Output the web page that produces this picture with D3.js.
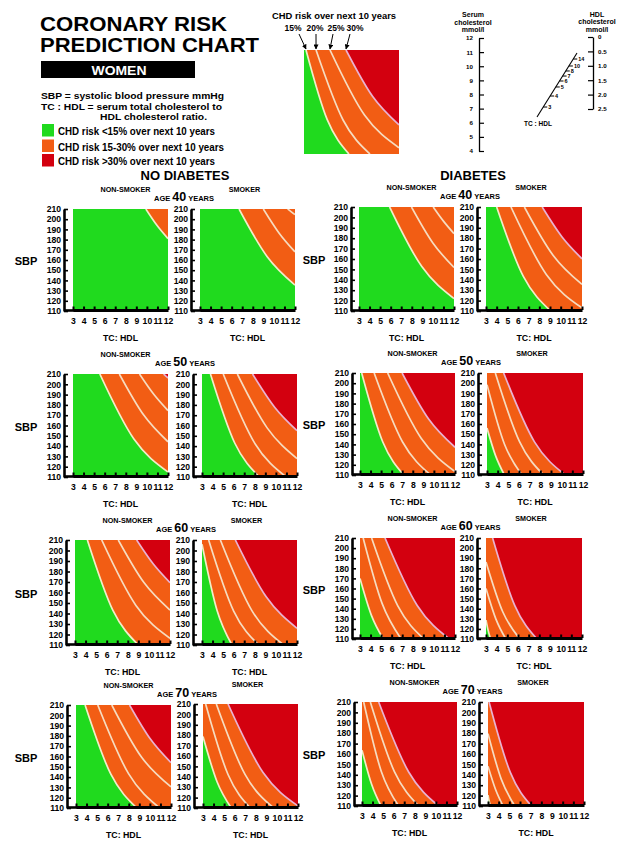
<!DOCTYPE html>
<html><head><meta charset="utf-8">
<script src="https://cdn.jsdelivr.net/npm/d3@7"></script>
<style>
body{margin:0;background:#fff}
svg{display:block}
text{font-family:"Liberation Sans",Arial,Helvetica,sans-serif;font-weight:bold;fill:#000}
</style>
</head><body>
<svg id="chart" width="622" height="852"></svg>
<script>
// ---------------- DATA ----------------
const titleLines = ["CORONARY RISK", "PREDICTION CHART"];
const sexLabel = "WOMEN";
const definitions = ["SBP = systolic blood pressure mmHg", "TC : HDL = serum total cholesterol to", "HDL cholesterol ratio."];
const legendItems = ["CHD risk <15% over next 10 years", "CHD risk 15-30% over next 10 years", "CHD risk >30% over next 10 years"];
const ages = [40, 50, 60, 70];
const diabetesGroups = ["NO DIABETES", "DIABETES"];
const smokingGroups = ["NON-SMOKER", "SMOKER"];
const riskLevels = ["15%", "20%", "25%", "30%"];
const sbpTicks = [110, 120, 130, 140, 150, 160, 170, 180, 190, 200, 210];
const ratioTicks = [3, 4, 5, 6, 7, 8, 9, 10, 11, 12];
const serumTicks = [4, 5, 6, 7, 8, 9, 10, 11, 12];
const hdlTicks = [0, 0.5, 1.0, 1.5, 2.0, 2.5];
const nomogramRatioTicks = [3, 4, 5, 6, 7, 8, 10, 14];

// Risk contour lines per panel: [15%, 20%, 25%, 30%], each as [TC:HDL, SBP] points (null = not present)
const legendContours = [[[3.19,210],[5.2,143],[7.26,110]], [[4.14,210],[6.7,142.7],[9.25,110]], [[5.46,210],[8.73,147.4],[12,116]], [[6.98,210],[9.49,165.5],[12,138]]];

const noDiabNonSmoker40 = [[[9.9,210],[10.95,194],[12,181]], null, null, null];
const noDiabSmoker40 = [[[6.7,210],[9.35,163.5],[12,135.4]], [[9.0,210],[10.5,186.3],[12,168]], [[11.3,210],[11.65,207.2],[12,204.5]], null];
const diabNonSmoker40 = [[[5.9,210],[8.95,152.7],[12,122]], [[7.97,210],[9.98,175.7],[12,151.8]], [[10.03,210],[11.0,196.4],[12,184.4]], null];
const diabSmoker40 = [[[4.0,210],[6.5,143.2],[9.06,110]], [[5.34,210],[8.67,144.9],[12,113]], [[6.6,210],[9.3,163.4],[12,135.6]], [[8.27,210],[10.13,181.2],[12,160.2]]];

const noDiabNonSmoker50 = [[[5.54,210],[8.77,146.8],[12,114.9]], [[7.39,210],[9.7,170.1],[12,144.2]], [[9.3,210],[10.65,190.3],[12,174.5]], [[11.59,210],[11.8,208],[12,206.1]]];
const noDiabSmoker50 = [[[3.8,210],[6.1,143],[8.43,110]], [[5.01,210],[7.99,142.9],[10.98,110]], [[6.35,210],[9.17,157.7],[12,127.9]], [[7.79,210],[9.9,177.5],[12,155]]];
const diabNonSmoker50 = [[[3.16,210],[5.15,142.6],[7.15,110]], [[4.34,210],[7.02,142.6],[9.7,110]], [[5.62,210],[8.81,145.7],[12,113.3]], [[6.99,210],[9.5,164.9],[12,137.2]]];
const diabSmoker50 = [[[3,156],[3.8,129],[4.63,110]], [[3,198.5],[4.64,140.1],[6.28,110]], [[3.78,210],[6.05,142.7],[8.31,110]], [[4.56,210],[7.45,142.5],[10.34,110]]];

const noDiabNonSmoker60 = [[[4.17,210],[6.58,143.2],[9.0,110]], [[5.53,210],[8.77,147.7],[12,116.3]], [[7.1,210],[9.55,169.2],[12,143.3]], [[8.84,210],[10.42,187.1],[12,169.4]]];
const noDiabSmoker60 = [[[3,206],[4.42,143.1],[5.84,110]], [[3.63,210],[6.0,142.3],[8.37,110]], [[4.74,210],[7.74,142.5],[10.74,110]], [[6.16,210],[9.08,155.9],[12,125.9]]];
const diabNonSmoker60 = [[[3,170],[4.1,132.9],[5.21,110]], [[3.3,210],[5.1,145],[6.9,110]], [[4.1,210],[6.58,142.8],[9.06,110]], [[5.37,210],[8.42,143.1],[11.46,110]]];
const diabSmoker60 = [[[3,128.7],[3.2,118.5],[3.43,110]], [[3,160],[3.93,129.7],[4.86,110]], [[3,186.3],[4.58,136.7],[6.17,110]], [[3.62,210],[5.7,143.1],[7.78,110]]];

const noDiabNonSmoker70 = [[[3.86,210],[6.3,142.8],[8.77,110]], [[5.06,210],[7.99,143.1],[10.92,110]], [[6.39,210],[9.2,159.5],[12,130.5]], [[8.07,210],[10.03,177.2],[12,154]]];
const noDiabSmoker70 = [[[3,178.7],[4.34,135],[5.68,110]], [[3.25,210],[5.37,142.2],[7.48,110]], [[4.26,210],[6.98,142.3],[9.69,110]], [[5.37,210],[8.69,144.1],[12,112]]];
const diabNonSmoker70 = [[[3,163.7],[3.9,131.1],[4.8,110]], [[3.16,210],[4.82,143.5],[6.47,110]], [[3.79,210],[6.08,142.8],[8.37,110]], [[4.58,210],[7.42,142.7],[10.26,110]]];
const diabSmoker70 = [[[3,120.5],[3.1,115],[3.22,110]], [[3,148.3],[3.7,126.1],[4.41,110]], [[3,179.6],[4.25,135.6],[5.51,110]], [[3.1,210],[5.09,142.3],[7.08,110]]];

// ---------------- LAYOUT / STYLE ----------------
const COLORS = {green: "#20da1e", orange: "#f25d14", red: "#d3000f"};
const LINE15 = "#f2ecc8", LINE_MID = "#f6dcc0", LINE30 = "#e9b2d2";
const panelLeft = [[73,200,359,486],[73,202,360,487],[75,202,360,486],[76,203,362,488]];
const panelTop  = [[209,209,207,207],[374,374,373,373],[540,540,538,538],[705,704,702,702]];
const panelH    = [[102,102,104,104],[103,103,102,102],[105,105,101,101],[103,104,104,104]];
const panelW    = [95, 95, 95, 96];
const axisGap   = [9, 9, 8, 9];

const panelContours = [
  [noDiabNonSmoker40, noDiabSmoker40, diabNonSmoker40, diabSmoker40],
  [noDiabNonSmoker50, noDiabSmoker50, diabNonSmoker50, diabSmoker50],
  [noDiabNonSmoker60, noDiabSmoker60, diabNonSmoker60, diabSmoker60],
  [noDiabNonSmoker70, noDiabSmoker70, diabNonSmoker70, diabSmoker70]
];

const svg = d3.select("#chart");
const xDom = [ratioTicks[0], ratioTicks[ratioTicks.length - 1]];
const yDom = [sbpTicks[0], sbpTicks[sbpTicks.length - 1]];

function drawRiskBox(left, top, w, h, contours, clipId) {
  const x = d3.scaleLinear().domain(xDom).range([left, left + w]);
  const y = d3.scaleLinear().domain(yDom).range([top + h, top]);
  svg.append("clipPath").attr("id", clipId).append("rect")
    .attr("x", left).attr("y", top).attr("width", w).attr("height", h);
  const g = svg.append("g").attr("clip-path", `url(#${clipId})`);
  const line = d3.line().x(d => x(d[0])).y(d => y(d[1])).curve(d3.curveNatural);
  const region = pts => {
    const first = pts[0], last = pts[pts.length - 1];
    return line(pts) + `L${x(last[0])},${y(yDom[0]) + 2}L${x(xDom[0]) - 2},${y(yDom[0]) + 2}L${x(xDom[0]) - 2},${y(first[1])}Z`;
  };
  g.append("rect").attr("x", left).attr("y", top).attr("width", w).attr("height", h).attr("fill", COLORS.red);
  if (contours[3]) g.append("path").attr("d", region(contours[3])).attr("fill", COLORS.orange);
  else g.append("rect").attr("x", left).attr("y", top).attr("width", w).attr("height", h).attr("fill", COLORS.orange);
  if (contours[0]) g.append("path").attr("d", region(contours[0])).attr("fill", COLORS.green);
  contours.forEach((pts, i) => {
    if (!pts) return;
    g.append("path").attr("d", line(pts)).attr("fill", "none")
      .attr("stroke", i === 0 ? LINE15 : (i === 3 ? LINE30 : LINE_MID))
      .attr("stroke-width", 1.7);
  });
  return {x, y};
}

// ---------------- HEADER ----------------
svg.append("text").attr("x", 40).attr("y", 31).attr("font-size", 21)
  .attr("textLength", 187).attr("lengthAdjust", "spacingAndGlyphs").text(titleLines[0]);
svg.append("text").attr("x", 40).attr("y", 52).attr("font-size", 21)
  .attr("textLength", 219).attr("lengthAdjust", "spacingAndGlyphs").text(titleLines[1]);
svg.append("rect").attr("x", 41).attr("y", 61).attr("width", 154).attr("height", 17).attr("fill", "#000");
svg.append("text").attr("x", 119).attr("y", 74.5).attr("font-size", 13).attr("text-anchor", "middle")
  .attr("textLength", 55).attr("lengthAdjust", "spacingAndGlyphs").style("fill", "#fff").text(sexLabel);

const defPos = [[41, 99, 183], [41, 110, 181], [100, 120, 107]];
definitions.forEach((t, i) => {
  svg.append("text").attr("x", defPos[i][0]).attr("y", defPos[i][1]).attr("font-size", 9.8)
    .attr("textLength", defPos[i][2]).attr("lengthAdjust", "spacingAndGlyphs").text(t);
});
const legColors = [COLORS.green, COLORS.orange, COLORS.red];
const legY = [124, 139.5, 154];
const legW = [157, 166, 157];
legendItems.forEach((t, i) => {
  svg.append("rect").attr("x", 42).attr("y", legY[i]).attr("width", 12).attr("height", 12.5).attr("fill", legColors[i]);
  svg.append("text").attr("x", 58).attr("y", legY[i] + 11).attr("font-size", 10)
    .attr("textLength", legW[i]).attr("lengthAdjust", "spacingAndGlyphs").text(t);
});

// ---------------- MINI LEGEND CHART ----------------
svg.append("text").attr("x", 272).attr("y", 19).attr("font-size", 9)
  .attr("textLength", 124).attr("lengthAdjust", "spacingAndGlyphs").text("CHD risk  over next 10 years");
const mini = drawRiskBox(304, 50, 95, 104, legendContours, "clipMini");
svg.append("defs").append("marker").attr("id", "arrow").attr("viewBox", "0 0 10 10")
  .attr("refX", 9).attr("refY", 5).attr("markerWidth", 5).attr("markerHeight", 5).attr("orient", "auto")
  .append("path").attr("d", "M0,0L10,5L0,10Z").attr("fill", "#000");
const miniLabelX = [293, 315, 336, 355];
const miniArrowStartX = [299, 316, 333, 350];
riskLevels.forEach((lab, i) => {
  svg.append("text").attr("x", miniLabelX[i]).attr("y", 31).attr("font-size", 8.5).attr("text-anchor", "middle").text(lab);
  svg.append("line").attr("x1", miniArrowStartX[i]).attr("y1", 34)
    .attr("x2", mini.x(legendContours[i][0][0])).attr("y2", 49)
    .attr("stroke", "#000").attr("stroke-width", 1).attr("marker-end", "url(#arrow)");
});

// ---------------- NOMOGRAM ----------------
const serumY = d3.scaleLinear().domain([4, 12]).range([151, 38]);
const hdlY = d3.scaleLinear().domain([0, 2.5]).range([37, 109]);
["Serum", "cholesterol", "mmol/l"].forEach((t, i) =>
  svg.append("text").attr("x", 473).attr("y", 17 + i * 7.5).attr("font-size", 7).attr("text-anchor", "middle").text(t));
["HDL", "cholesterol", "mmol/l"].forEach((t, i) =>
  svg.append("text").attr("x", 597).attr("y", 16.5 + i * 7.5).attr("font-size", 7).attr("text-anchor", "middle").text(t));
const gSerum = svg.append("g").attr("transform", "translate(479,0)")
  .call(d3.axisLeft(serumY).tickValues(serumTicks).tickSize(-5).tickSizeOuter(0).tickPadding(6));
const gHdl = svg.append("g").attr("transform", "translate(593,0)")
  .call(d3.axisRight(hdlY).tickValues(hdlTicks).tickSize(-5).tickSizeOuter(0).tickPadding(5)
    .tickFormat(d => d === 0 ? "0" : d3.format(".1f")(d)));
[gSerum, gHdl].forEach(g => {
  g.selectAll("path.domain").attr("stroke", "#000").attr("stroke-width", 1.3);
  g.selectAll(".tick line").attr("stroke", "#000").attr("stroke-width", 1.2);
  g.selectAll("text").attr("font-size", 6.2).attr("font-family", null);
  g.attr("font-family", null);
});
const diagStart = [537, 117], diagEnd = [577, 53];
const diagPos = d3.scaleLinear().domain(nomogramRatioTicks).range([0.156, 0.328, 0.469, 0.5625, 0.64, 0.719, 0.797, 0.906]);
svg.append("line").attr("x1", diagStart[0]).attr("y1", diagStart[1]).attr("x2", diagEnd[0]).attr("y2", diagEnd[1])
  .attr("stroke", "#000").attr("stroke-width", 1.1);
nomogramRatioTicks.forEach(r => {
  const f = diagPos(r);
  const px = diagStart[0] + (diagEnd[0] - diagStart[0]) * f, py = diagStart[1] + (diagEnd[1] - diagStart[1]) * f;
  svg.append("line").attr("x1", px).attr("y1", py).attr("x2", px + 4).attr("y2", py).attr("stroke", "#000").attr("stroke-width", 1);
  svg.append("text").attr("x", px + 5).attr("y", py + 2).attr("font-size", 5.5).text(r);
});
svg.append("text").attr("x", 538).attr("y", 126).attr("font-size", 6.5).attr("text-anchor", "middle").text("TC : HDL");

// ---------------- SECTION HEADERS ----------------
svg.append("text").attr("x", 185).attr("y", 180).attr("font-size", 13).attr("text-anchor", "middle").text(diabetesGroups[0]);
svg.append("text").attr("x", 473).attr("y", 180).attr("font-size", 13).attr("text-anchor", "middle").text(diabetesGroups[1]);

// ---------------- PANELS ----------------
panelContours.forEach((row, r) => {
  row.forEach((contours, c) => {
    const left = panelLeft[r][c], top = panelTop[r][c], w = panelW[c], h = panelH[r][c];
    const {x, y} = drawRiskBox(left, top, w, h, contours, `clip${r}${c}`);
    const axX = left - axisGap[c];
    // y axis
    const gy = svg.append("g").attr("transform", `translate(${axX},0)`)
      .call(d3.axisLeft(y).tickValues(sbpTicks).tickSize(-4).tickSizeOuter(0).tickPadding(3));
    gy.attr("font-family", null);
    gy.selectAll("path.domain").attr("stroke", "#000").attr("stroke-width", 2.6);
    gy.selectAll(".tick line").attr("stroke", "#000").attr("stroke-width", 1.6);
    gy.selectAll("text").attr("font-size", 8.6).attr("font-family", null);
    // x axis
    const bottom = top + h;
    const gx = svg.append("g").attr("transform", `translate(0,${bottom - 1})`)
      .call(d3.axisBottom(x).tickValues(ratioTicks).tickSize(-3.5).tickSizeOuter(0).tickPadding(8));
    gx.attr("font-family", null);
    gx.selectAll("path.domain").attr("stroke", "#000").attr("stroke-width", 3);
    gx.selectAll(".tick line").attr("stroke", "#000").attr("stroke-width", 2);
    gx.selectAll("text").attr("font-size", 8.6).attr("font-family", null);
    svg.append("line").attr("x1", axX).attr("x2", left + 1).attr("y1", bottom - 0.5).attr("y2", bottom - 0.5)
      .attr("stroke", "#000").attr("stroke-width", 2.6);
    // labels
    svg.append("text").attr("x", left + w / 2).attr("y", bottom + 30).attr("font-size", 8.8)
      .attr("text-anchor", "middle").text("TC: HDL");
    const showSmokeLabel = !(r === 1 && c === 1);
    if (showSmokeLabel) {
      svg.append("text").attr("x", left + w / 2 + (c % 2 === 0 ? 5 : -3)).attr("y", top - 17)
        .attr("font-size", 7.2).attr("text-anchor", "middle").text(smokingGroups[c % 2]);
    }
    if (c % 2 === 0) {
      svg.append("text").attr("x", c === 0 ? 26 : 314).attr("y", top + h / 2 + 5)
        .attr("font-size", 11).attr("text-anchor", "middle").text("SBP");
      const gapCenter = (left + w + panelLeft[r][c + 1]) / 2;
      const t = svg.append("text").attr("x", gapCenter).attr("y", top - 8).attr("text-anchor", "middle");
      t.append("tspan").attr("font-size", 7.5).text("AGE ");
      t.append("tspan").attr("font-size", 12.5).text(ages[r]);
      t.append("tspan").attr("font-size", 7.5).text(" YEARS");
    }
  });
});
</script>
</body></html>
